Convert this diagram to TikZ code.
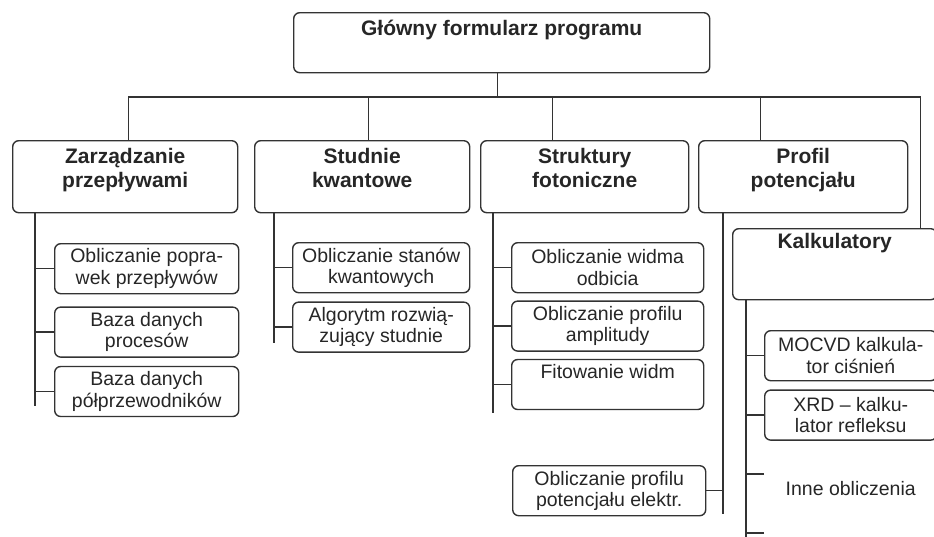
\documentclass[tikz,border=0pt]{standalone}
\usepackage{fontspec}
\setmainfont{Liberation Sans}
\usetikzlibrary{positioning}
\tikzstyle{box} = [draw=black!80, line width=1.4pt, rounded corners=6pt, inner sep=0pt, anchor=north west]
\tikzstyle{stage} = [box, minimum height=72pt]
\tikzstyle{task} = [box, minimum height=50pt, align=center, text=black!85, font=\fontsize{19.5}{21.5}\selectfont]
\tikzstyle{heading} = [align=center, inner sep=0pt, text=black!85, font=\bfseries\fontsize{21}{24.5}\selectfont]
\tikzstyle{wire} = [draw=black!80, line width=1.4pt]

\begin{document}
\begin{tikzpicture}[x=1pt, y=-1pt]
    \useasboundingbox (0,0) rectangle (934,536);
    \clip (0,0) rectangle (934,536);

    \node (main) [box, minimum width=416pt, minimum height=60pt] at (293,12) {};
    \node (main text) [heading, below=8pt of main.north] {Główny formularz programu};

    % Modules.
    \node (zarz) [stage, minimum width=225pt] at (12,140) {};
    \node (studnie) [stage, minimum width=215pt] at (254,140) {};
    \node (struktury) [stage, minimum width=208pt] at (480,140) {};
    \node (profil) [stage, minimum width=209pt] at (698,140) {};
    \node (kalk) [box, minimum width=204pt, minimum height=71pt] at (732,228) {};

    \node (zarz text) [heading, below=8pt of zarz.north] {Zarządzanie\\przepływami};
    \node (studnie text) [heading, below=8pt of studnie.north] {Studnie\\kwantowe};
    \node (struktury text) [heading, below=8pt of struktury.north] {Struktury\\fotoniczne};
    \node (profil text) [heading, below=8pt of profil.north] {Profil\\potencjału};
    \node (kalk text) [heading, below=5pt of kalk.north] {Kalkulatory};

    % Tasks.
    \node (pop) [task, minimum width=184pt] at (54,243) {Obliczanie popra-\\wek przepływów};
    \node (procesy) [task, minimum width=184pt, below=12pt of pop] {Baza danych\\procesów};
    \node (polprz) [task, minimum width=184pt, below=8pt of procesy] {Baza danych\\półprzewodników};

    \node (stany) [task, minimum width=177pt] at (292,242) {Obliczanie stanów\\kwantowych};
    \node (algorytm) [task, minimum width=177pt, below=8pt of stany] {Algorytm rozwią-\\zujący studnie};

    \node (odbicie) [task, minimum width=192pt] at (511,242) {Obliczanie widma\\odbicia};
    \node (amplituda) [task, minimum width=192pt, below=7pt of odbicie] {Obliczanie profilu\\amplitudy};
    \node (fit) [task, minimum width=192pt, below=7pt of amplituda] {};
    \node (fit text) [task, draw=none, minimum height=0pt, anchor=north, below=5pt of fit.north] {Fitowanie widm};

    \node (elektr) [task, minimum width=193pt] at (512,465) {Obliczanie profilu\\potencjału elektr.};

    \node (mocvd) [task, minimum width=172pt] at (764,330) {MOCVD kalkula-\\tor ciśnień};
    \node (xrd) [task, minimum width=172pt, below=8pt of mocvd] {XRD -- kalku-\\lator refleksu};
    \node (inne) [task, draw=none, minimum width=172pt, below=22pt of xrd] {Inne obliczenia};
    \coordinate (next) at ([yshift=-70pt]inne.north west);

    % Bus.
    \coordinate (bus) at (0,97);
    \draw [wire] ([xshift=-4pt]main.south) -- ([xshift=-4pt]main.south |- bus);
    \draw [wire] ([xshift=3.5pt]zarz.north) |- ([xshift=86pt]kalk.north |- bus) -- ([xshift=86pt]kalk.north);
    \foreach \n/\dx in {studnie/6.5, struktury/-32, profil/-42.5} {%
        \draw [wire] ([xshift=\dx pt]\n.north) -- ([xshift=\dx pt]\n.north |- bus);
    }

    % Trunks.
    \coordinate (zarz trunk) at ([xshift=23pt]zarz.south west);
    \coordinate (studnie trunk) at ([xshift=20pt]studnie.south west);
    \coordinate (struktury trunk) at ([xshift=13pt]struktury.south west);
    \coordinate (profil trunk) at ([xshift=25pt]profil.south west);
    \coordinate (kalk trunk) at ([xshift=14pt]kalk.south west);
    \draw [wire] (zarz trunk) -- ++(0,193);
    \draw [wire] (studnie trunk) -- ++(0,130);
    \draw [wire] (struktury trunk) -- ++(0,200);
    \draw [wire] (profil trunk) -- ++(0,301);
    \draw [wire] (kalk trunk) -- ++(0,250);

    \foreach \t/\m in {zarz/pop, zarz/procesy, zarz/polprz, studnie/stany, studnie/algorytm,
        struktury/odbicie, struktury/amplituda, struktury/fit, kalk/mocvd, kalk/xrd} {%
        \draw [wire] (\m.west) -- (\m.west -| \t\space trunk);
    }
    \draw [wire] (elektr.east) -- (elektr.east -| profil trunk);
    \draw [wire] ([yshift=-11pt]inne.north west) -- ([yshift=-11pt]inne.north west -| kalk trunk);
    \draw [wire] (next) -- (next -| kalk trunk);
\end{tikzpicture}
\end{document}
